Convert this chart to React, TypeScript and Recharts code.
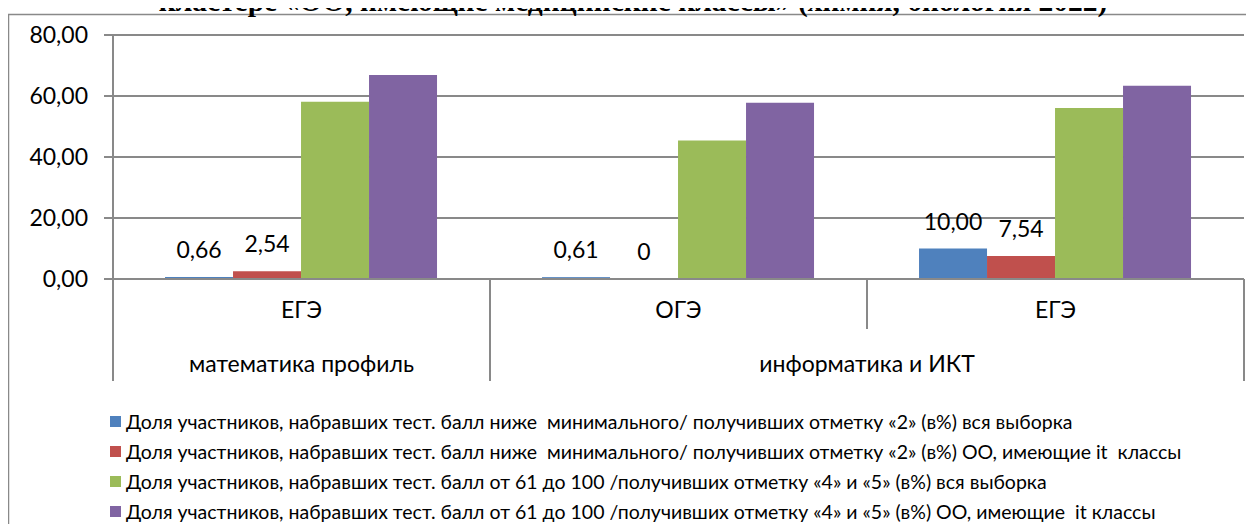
import React from 'react'
import {BarChart, Bar, XAxis, YAxis, CartesianGrid, Legend} from 'recharts'

const exams = ['ЕГЭ', 'ОГЭ', 'ЕГЭ']
const subjects = ['математика профиль', 'информатика и ИКТ', 'информатика и ИКТ']

const failAll = [0.66, 0.61, 10.0]
const failIt = [2.54, 0, 7.54]
const topAll = [58.1, 45.4, 56.1]
const topIt = [66.9, 57.8, 63.4]

const seriesNames = [
  'Доля участников, набравших тест. балл ниже  минимального/ получивших отметку «2» (в%) вся выборка',
  'Доля участников, набравших тест. балл ниже  минимального/ получивших отметку «2» (в%) ОО, имеющие it  классы',
  'Доля участников, набравших тест. балл от 61 до 100 /получивших отметку «4» и «5» (в%) вся выборка',
  'Доля участников, набравших тест. балл от 61 до 100 /получивших отметку «4» и «5» (в%) ОО, имеющие  it классы',
]
const colors = ['#4F81BD', '#C0504D', '#9BBB59', '#8064A2']
const yTicks = [0, 20, 40, 60, 80]

const title = 'кластере «ОО, имеющие медицинские классы» (химия, биология 2022)'

const data = exams.map((exam, i) => ({
  exam,
  failAll: failAll[i],
  failIt: failIt[i],
  topAll: topAll[i],
  topIt: topIt[i],
}))

const FONT = 'Lato, "Noto Sans", sans-serif'
const GRAY = '#898989'

const fmt = (v: number) => (v === 0 ? '0' : v.toFixed(2).replace('.', ','))

// bar with its value written above it (also for zero-height bars)
const LabeledBar = (props: any) => {
  const {x, y, width, height, fill, value} = props
  const v = Array.isArray(value) ? value[1] - value[0] : value
  return (
    <g>
      {height > 0 && <rect x={x} y={y} width={width} height={height} fill={fill} />}
      <text x={x + width / 2} y={y - 19} textAnchor="middle" fontSize={23} fontFamily={FONT} fill="#000">
        {fmt(Number(v))}
      </text>
    </g>
  )
}

// two-level category axis: exam on the first row, subject spanning its exams on the second
const CategoryTick = (props: any) => {
  const {x, y, payload, index, width, visibleTicksCount} = props
  const half = payload && payload.offset ? payload.offset : width / (2 * visibleTicksCount)
  const left = x - half
  const startsGroup = index === 0 || subjects[index] !== subjects[index - 1]
  let end = index
  while (end + 1 < subjects.length && subjects[end + 1] === subjects[index]) end++
  const span = end - index + 1
  const last = index === exams.length - 1
  return (
    <g>
      <line x1={left} x2={left} y1={y} y2={y + (startsGroup ? 102 : 50)} stroke={GRAY} strokeWidth={2} />
      {last && <line x1={x + half} x2={x + half} y1={y} y2={y + 102} stroke={GRAY} strokeWidth={2} />}
      <text x={x} y={y + 39} textAnchor="middle" fontSize={23} fontFamily={FONT} fill="#000">
        {exams[index]}
      </text>
      {startsGroup && (
        <text x={left + span * half} y={y + 93} textAnchor="middle" fontSize={23} fontFamily={FONT} fill="#000">
          {subjects[index]}
        </text>
      )}
    </g>
  )
}

const LegendRows = () => (
  <div style={{fontFamily: FONT, fontSize: 19.5, color: '#000'}}>
    {seriesNames.map((name, i) => (
      <div key={name} style={{height: 30, display: 'flex', alignItems: 'center'}}>
        <span style={{display: 'inline-block', width: 11, height: 11, marginLeft: 110, background: colors[i]}} />
        <span style={{marginLeft: 5, whiteSpace: 'pre'}}>{name}</span>
      </div>
    ))}
  </div>
)

export default function App() {
  return (
    <div style={{position: 'relative', width: 1254, height: 532, margin: -8, overflow: 'hidden', background: '#fff'}}>
      <BarChart
        width={1254}
        height={532}
        data={data}
        margin={{top: 35, right: 10, bottom: 150, left: 0}}
        barCategoryGap="13.8%"
        barGap={0}
        style={{position: 'absolute', left: 0, top: 0}}
      >
        <CartesianGrid vertical={false} stroke={GRAY} strokeWidth={2} />
        <XAxis
          dataKey="exam"
          height={103}
          tickSize={0}
          tickMargin={0}
          interval={0}
          axisLine={{stroke: GRAY, strokeWidth: 2}}
          tickLine={false}
          tick={<CategoryTick />}
        />
        <YAxis
          width={113}
          domain={[0, 80]}
          ticks={yTicks}
          interval={0}
          tickFormatter={(v: number) => v.toFixed(2).replace('.', ',')}
          tickSize={9}
          tickMargin={16}
          axisLine={{stroke: GRAY, strokeWidth: 2}}
          tickLine={{stroke: GRAY, strokeWidth: 2}}
          tick={{fontSize: 23, fill: '#000', fontFamily: FONT}}
        />
        <Legend
          verticalAlign="middle"
          align="center"
          layout="horizontal"
          wrapperStyle={{top: 406, left: 0, width: 1254}}
          content={<LegendRows />}
        />
        <Bar dataKey="failAll" name={seriesNames[0]} fill={colors[0]} isAnimationActive={false} shape={<LabeledBar />} />
        <Bar dataKey="failIt" name={seriesNames[1]} fill={colors[1]} isAnimationActive={false} shape={<LabeledBar />} />
        <Bar dataKey="topAll" name={seriesNames[2]} fill={colors[2]} isAnimationActive={false} />
        <Bar dataKey="topIt" name={seriesNames[3]} fill={colors[3]} isAnimationActive={false} />
      </BarChart>
      <svg width={1254} height={532} style={{position: 'absolute', left: 0, top: 0, pointerEvents: 'none'}}>
        <rect x={8.5} y={14.5} width={1242} height={530} fill="none" stroke={GRAY} strokeWidth={1.5} />
        <text x={633} y={11} textAnchor="middle" fontSize={29.5} fontWeight="bold" fontFamily='"Liberation Serif", serif' fill="#000">
          {title}
        </text>
      </svg>
    </div>
  )
}
